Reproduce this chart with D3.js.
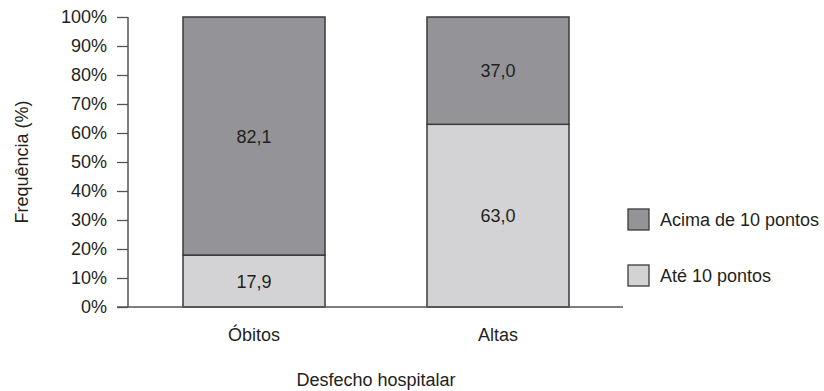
<!DOCTYPE html>
<html>
<head>
<meta charset="utf-8">
<script src="https://cdn.jsdelivr.net/npm/d3@7"></script>
<style>
  html, body { margin: 0; padding: 0; background: #fff; }
  svg { display: block; font-family: "Liberation Sans", Arial, sans-serif; }
</style>
</head>
<body>
<svg id="chart" width="824" height="391"></svg>
<script>
// Stacked percentage bars by hospital outcome
const categories = ["Óbitos", "Altas"];
const seriesNames = ["Até 10 pontos", "Acima de 10 pontos"];
const ate10 = [17.9, 63.0];
const acima10 = [82.1, 37.0];
const yTicks = [0, 10, 20, 30, 40, 50, 60, 70, 80, 90, 100];
const colors = { "Até 10 pontos": "#d3d3d5", "Acima de 10 pontos": "#949498" };

const svg = d3.select("#chart");
const textColor = "#231f20";
const fontSize = 18;

const x = d3.scaleBand()
  .domain(categories)
  .range([128, 624])
  .paddingInner(0.418)
  .paddingOuter(0.2254);

const y = d3.scaleLinear().domain([0, 100]).range([307, 17]);

const rows = categories.map((c, i) => ({
  cat: c,
  "Até 10 pontos": ate10[i],
  "Acima de 10 pontos": acima10[i]
}));
const stacked = d3.stack().keys(seriesNames)(rows);

// Y axis
const yAxis = svg.append("g")
  .attr("transform", "translate(128,0)")
  .call(d3.axisLeft(y).tickValues(yTicks).tickSize(11).tickPadding(10)
    .tickFormat(d => d + "%"));
yAxis.select(".domain").attr("d", `M0,${y(100)}V${y(0)}`)
  .attr("stroke", "#555").attr("stroke-width", 1.5);
yAxis.selectAll(".tick line").attr("stroke", "#555").attr("stroke-width", 1.3);
yAxis.selectAll(".tick text")
  .attr("fill", textColor).attr("font-size", fontSize)
  .attr("font-family", "Liberation Sans, Arial, sans-serif");

// Bars
svg.append("g").selectAll("g")
  .data(stacked)
  .join("g")
  .attr("fill", d => colors[d.key])
  .selectAll("rect")
  .data(d => d)
  .join("rect")
  .attr("x", d => x(d.data.cat))
  .attr("width", x.bandwidth())
  .attr("y", d => y(d[1]))
  .attr("height", d => y(d[0]) - y(d[1]))
  .attr("stroke", "#3a3a3a")
  .attr("stroke-width", 1.5);

// Value labels
svg.append("g").selectAll("g")
  .data(stacked)
  .join("g")
  .selectAll("text")
  .data(d => d)
  .join("text")
  .attr("x", d => x(d.data.cat) + x.bandwidth() / 2)
  .attr("y", d => (y(d[0]) + y(d[1])) / 2)
  .attr("dy", "0.36em")
  .attr("text-anchor", "middle")
  .attr("font-size", fontSize)
  .attr("fill", textColor)
  .text(d => (d[1] - d[0]).toFixed(1).replace(".", ","));

// X axis
const xAxis = svg.append("g")
  .attr("transform", `translate(0,${y(0)})`)
  .call(d3.axisBottom(x).tickSize(0).tickPadding(21));
xAxis.select(".domain").attr("d", "M117,0H623")
  .attr("stroke", "#555").attr("stroke-width", 1.5);
xAxis.selectAll(".tick text")
  .attr("fill", textColor).attr("font-size", fontSize)
  .attr("font-family", "Liberation Sans, Arial, sans-serif");

// Axis titles
svg.append("text")
  .attr("x", (x.range()[0] + x.range()[1]) / 2).attr("y", 386)
  .attr("text-anchor", "middle")
  .attr("font-size", fontSize)
  .attr("fill", textColor)
  .text("Desfecho hospitalar");

svg.append("text")
  .attr("transform", "translate(28,162) rotate(-90)")
  .attr("text-anchor", "middle")
  .attr("font-size", fontSize)
  .attr("fill", textColor)
  .text("Frequência (%)");

// Legend
const legendItems = ["Acima de 10 pontos", "Até 10 pontos"];
const legend = svg.append("g").selectAll("g")
  .data(legendItems)
  .join("g")
  .attr("transform", (d, i) => `translate(628,${209 + i * 56})`);
legend.append("rect")
  .attr("width", 21).attr("height", 21)
  .attr("fill", d => colors[d])
  .attr("stroke", "#3a3a3a").attr("stroke-width", 1.3);
legend.append("text")
  .attr("x", 32).attr("y", 10.5).attr("dy", "0.36em")
  .attr("font-size", fontSize)
  .attr("fill", textColor)
  .text(d => d);
</script>
</body>
</html>
